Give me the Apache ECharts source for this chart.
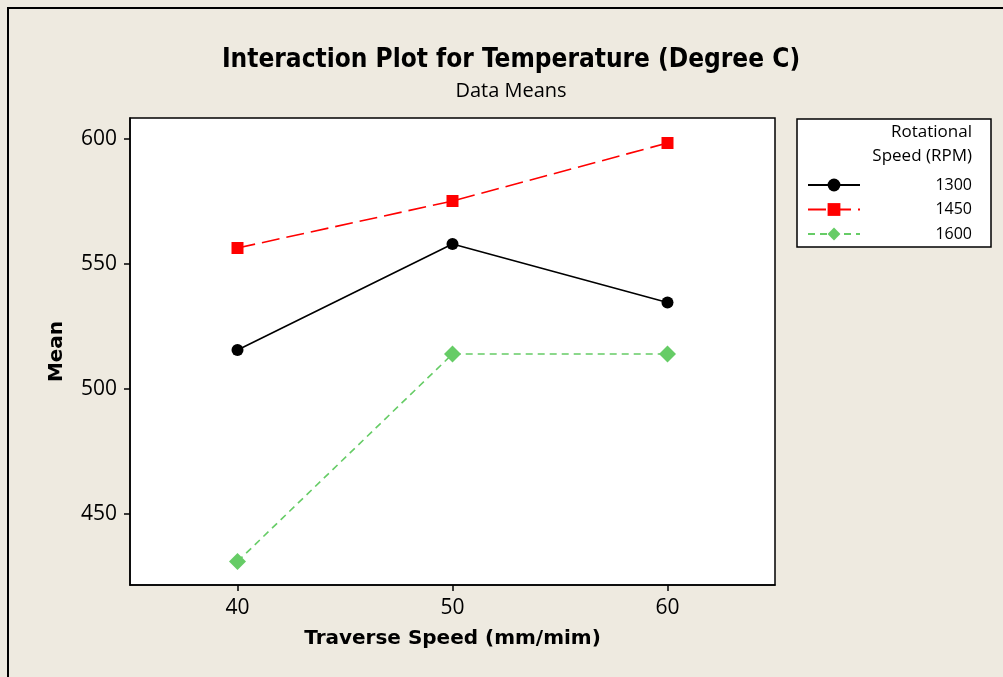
<!DOCTYPE html>
<html><head><meta charset="utf-8">
<script src="https://cdn.jsdelivr.net/npm/echarts@6/dist/echarts.min.js"></script>
<style>html,body{margin:0;padding:0;background:#EEEAE0;}#c{width:1003px;height:677px;}</style>
</head><body><div id="c"></div>
<script>
const categories = [40, 50, 60];
const xTicks = [40, 50, 60];
const yTicks = [450, 500, 550, 600];
const seriesNames = ['1300', '1450', '1600'];
const rpm1300 = [515.6, 558.0, 534.6];
const rpm1450 = [556.4, 575.2, 598.4];
const rpm1600 = [431.0, 514.0, 514.0];

const chart = echarts.init(document.getElementById('c'));
const fontTick = 'Open Sans, Noto Sans, sans-serif';
function pts(vals){ return categories.map((x,i)=>[x, vals[i]]); }
const legendRich = {v:{width:107, align:'right', fontSize:16, fontFamily:fontTick, color:'#000'}};
chart.setOption({
  backgroundColor:'#EEEAE0',
  animation:false,
  title:[
    {text:'Interaction Plot for Temperature (Degree C)', left:506, top:42, textAlign:'center',
     textStyle:{fontFamily:'DejaVu Sans Condensed, DejaVu Sans, sans-serif', fontWeight:'bold', fontSize:26, color:'#000'}},
    {text:'Data Means', left:506, top:76, textAlign:'center',
     textStyle:{fontFamily:fontTick, fontWeight:'normal', fontSize:20, color:'#000'}}
  ],
  graphic:[
    {type:'rect', shape:{x:8, y:8, width:1100, height:800}, style:{fill:'none', stroke:'#000', lineWidth:2}, silent:true},
    {type:'rect', shape:{x:797, y:119, width:194, height:128}, style:{fill:'#fff', stroke:'#000', lineWidth:1.5}, silent:true, z:0},
    {type:'text', style:{text:'Rotational', x:972, y:124, align:'right', fontSize:17, fontFamily:fontTick, fill:'#000'}, z:5},
    {type:'text', style:{text:'Speed (RPM)', x:972, y:148, align:'right', fontSize:17, fontFamily:fontTick, fill:'#000'}, z:5}
  ],
  legend:{
    orient:'vertical', left:802, top:172, itemGap:8.5, itemWidth:52, itemHeight:16,
    data:seriesNames,
    formatter: n => '{v|' + n + '}',
    textStyle:{rich:legendRich, padding:[0,0,0,0]},
    z:10
  },
  grid:{left:130, top:118, right:228, bottom:92, show:true, backgroundColor:'#fff', borderColor:'#000', borderWidth:1.5},
  xAxis:{
    type:'value', min:35, max:65, interval:5,
    name:'Traverse Speed (mm/mim)', nameLocation:'middle', nameGap:44,
    nameTextStyle:{fontFamily:'DejaVu Sans, sans-serif', fontWeight:'bold', fontSize:20, color:'#000'},
    axisLine:{show:true, lineStyle:{color:'#000', width:1.5}},
    axisTick:{show:true, length:6, lineStyle:{color:'#000', width:1.5}, customValues:xTicks},
    axisLabel:{fontFamily:fontTick, fontSize:21, color:'#000', margin:13, customValues:xTicks},
    splitLine:{show:false}
  },
  yAxis:{
    type:'value', min:421.6, max:608.4,
    name:'Mean', nameLocation:'middle', nameGap:63,
    nameTextStyle:{fontFamily:'DejaVu Sans, sans-serif', fontWeight:'bold', fontSize:20, color:'#000'},
    axisLine:{show:true, lineStyle:{color:'#000', width:1.5}},
    axisTick:{show:true, length:6, lineStyle:{color:'#000', width:1.5}, customValues:yTicks},
    axisLabel:{fontFamily:fontTick, fontSize:21, color:'#000', margin:13, customValues:yTicks},
    splitLine:{show:false}
  },
  series:[
    {name:'1300', type:'line', data:pts(rpm1300), symbol:'circle', symbolSize:12,
     lineStyle:{color:'#000', width:1.6, type:'solid'}, itemStyle:{color:'#000'}},
    {name:'1450', type:'line', data:pts(rpm1450), symbol:'rect', symbolSize:12,
     lineStyle:{color:'#FF0000', width:1.6, type:[18,7]}, itemStyle:{color:'#FF0000'}},
    {name:'1600', type:'line', data:pts(rpm1600), symbol:'diamond', symbolSize:17,
     lineStyle:{color:'#66CC66', width:1.6, type:[7,5]}, itemStyle:{color:'#66CC66'}}
  ]
});
</script></body></html>
